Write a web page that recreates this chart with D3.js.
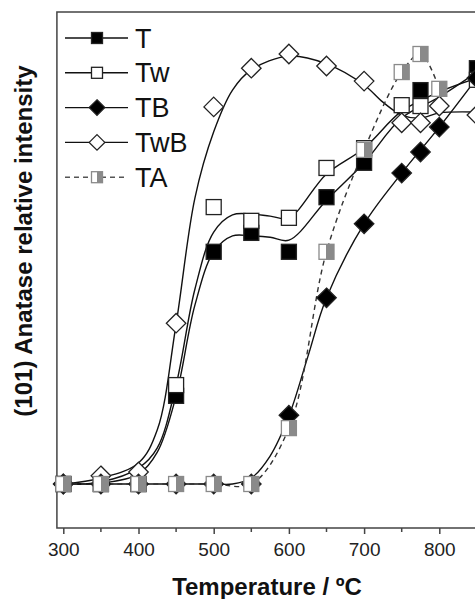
<!DOCTYPE html>
<html>
<head>
<meta charset="utf-8">
<script src="https://cdn.jsdelivr.net/npm/d3@7"></script>
<style>
  body { margin: 0; background: #fff; }
  svg { display: block; font-family: "Liberation Sans", Arial, sans-serif; }
</style>
</head>
<body>
<svg id="chart" width="475" height="599"></svg>
<script>
// measured points (relative intensity, baseline = 0)
const tempsT = [300, 350, 400, 450, 500, 550, 600, 650, 700, 775, 850];
const valuesT = [0, 0, 0, 20.5, 54.0, 58.4, 54.0, 66.7, 74.7, 91.6, 96.7];

const tempsTw = [300, 350, 400, 450, 500, 550, 600, 650, 700, 750, 775, 850];
const valuesTw = [0, 0, 0, 23.0, 64.4, 61.2, 61.9, 73.5, 78.1, 88.1, 87.9, 94.0];

const tempsTB = [300, 350, 400, 450, 500, 550, 600, 650, 700, 750, 775, 800, 850];
const valuesTB = [0, 0, 0, 0, 0, 0, 16.0, 43.3, 60.5, 72.3, 77.2, 83.0, 94.4];

const tempsTwB = [300, 350, 400, 450, 500, 550, 600, 650, 700, 750, 775, 800, 850];
const valuesTwB = [0, 1.9, 2.8, 37.4, 87.7, 96.7, 100, 97.2, 93.7, 84.0, 84.0, 87.9, 85.8];

const tempsTA = [300, 350, 400, 450, 500, 550, 600, 650, 700, 750, 775, 800];
const valuesTA = [0, 0, 0, 0, 0, 0, 13.0, 54.0, 77.7, 95.8, 100, 91.9];

// fitted curves as drawn in the figure
const fitTempsT = [300, 350, 400, 425, 450, 475, 500, 525, 550, 575, 600, 650, 700, 750, 800, 850];
const fitT = [0, 0.2, 2.3, 7.4, 20.5, 41.6, 54.0, 57.7, 57.7, 57.4, 56.7, 66.0, 74.7, 85.1, 90.0, 95.8];

const fitTempsTw = [300, 350, 400, 425, 450, 475, 500, 525, 550, 575, 600, 650, 700, 750, 800, 850];
const fitTw = [0, 0.5, 3.7, 8.4, 23.0, 45.3, 58.6, 62.6, 62.8, 62.3, 61.9, 72.1, 78.1, 86.7, 91.2, 94.4];

const fitTempsTB = [300, 350, 400, 450, 500, 525, 550, 575, 600, 625, 650, 700, 750, 800, 850];
const fitTB = [0, 0, 0, 0, 0, 0, 1.4, 6.5, 15.8, 29.5, 43.3, 60.5, 72.3, 83.0, 94.4];

const fitTempsTwB = [300, 350, 400, 425, 450, 475, 500, 525, 550, 600, 650, 700, 725, 750, 775, 800, 850];
const fitTwB = [0, 1.4, 4.9, 12.6, 37.2, 66.5, 81.9, 91.6, 96.3, 99.5, 97.7, 92.8, 88.8, 85.8, 85.1, 86.3, 86.5];

const majorTicks = [300, 400, 500, 600, 700, 800];
const minorTicks = [350, 450, 550, 650, 750, 850];
const legendLabels = ["T", "Tw", "TB", "TwB", "TA"];

const zip = (xs, ys) => xs.map((x, i) => ({ x: x, y: ys[i] }));

const svg = d3.select("#chart");

const x = d3.scaleLinear().domain([300, 800]).range([63.3, 439.3]);
const y = d3.scaleLinear().domain([0, 100]).range([484, 54]);

const frameLeft = x(291.5), frameTop = 12, frameBottom = 528, frameRight = x(900);

// fill for the half-shaded TA marker
const defs = svg.append("defs");
const grad = defs.append("linearGradient").attr("id", "half");
grad.append("stop").attr("offset", "50%").attr("stop-color", "#fff");
grad.append("stop").attr("offset", "50%").attr("stop-color", "#8a8a8a");

// frame
svg.append("path")
	.attr("d", `M${frameRight},${frameTop}H${frameLeft}V${frameBottom}H${frameRight}`)
	.attr("fill", "none")
	.attr("stroke", "#444")
	.attr("stroke-width", 1.5);

// x axis
const axis = svg.append("g").attr("transform", `translate(0,${frameBottom})`);
axis.call(d3.axisBottom(x).tickValues(majorTicks).tickSize(6).tickPadding(9).tickSizeOuter(0));
axis.select(".domain").remove();
axis.selectAll(".tick line").attr("stroke", "#444").attr("stroke-width", 1.5);
axis.selectAll(".tick text")
	.attr("font-size", 19)
	.attr("font-family", "Liberation Sans, Arial, sans-serif")
	.attr("fill", "#222");
axis.selectAll(".minor")
	.data(minorTicks)
	.enter()
	.append("line")
	.attr("x1", (d) => x(d))
	.attr("x2", (d) => x(d))
	.attr("y1", 0)
	.attr("y2", 4)
	.attr("stroke", "#444")
	.attr("stroke-width", 1.5);

// axis titles
svg.append("text")
	.attr("x", 267)
	.attr("y", 595)
	.attr("text-anchor", "middle")
	.attr("font-size", 24)
	.attr("font-weight", "bold")
	.attr("fill", "#111")
	.text("Temperature / ºC");

svg.append("text")
	.attr("transform", "translate(32,241) rotate(-90)")
	.attr("text-anchor", "middle")
	.attr("font-size", 24)
	.attr("font-weight", "bold")
	.attr("fill", "#111")
	.text("(101) Anatase relative intensity");

// curves
const plot = svg.append("g");
const line = d3.line()
	.x((d) => x(d.x))
	.y((d) => y(d.y))
	.curve(d3.curveCatmullRom.alpha(0.5));

const curves = [
	{ data: zip(fitTempsTB, fitTB), dash: null },
	{ data: zip(fitTempsTwB, fitTwB), dash: null },
	{ data: zip(fitTempsT, fitT), dash: null },
	{ data: zip(fitTempsTw, fitTw), dash: null },
	{ data: zip(tempsTA, valuesTA), dash: "5,4" }
];

plot.selectAll("path.curve")
	.data(curves)
	.enter()
	.append("path")
	.attr("class", "curve")
	.attr("d", (d) => line(d.data))
	.attr("fill", "none")
	.attr("stroke", (d) => (d.dash ? "#333" : "#111"))
	.attr("stroke-width", 1.4)
	.attr("stroke-dasharray", (d) => d.dash);

// marker shapes
function drawMarker(g, kind, s) {
	if (kind === "T" || kind === "Tw" || kind === "TA") {
		g.append("rect")
			.attr("x", -s / 2)
			.attr("y", -s / 2)
			.attr("width", s)
			.attr("height", s)
			.attr("fill", kind === "T" ? "#000" : kind === "Tw" ? "#fff" : "url(#half)")
			.attr("stroke", kind === "TA" ? "#8a8a8a" : "#222")
			.attr("stroke-width", 1.3);
	} else {
		const r = s * 0.65;
		g.append("path")
			.attr("d", `M0,${-r}L${r},0L0,${r}L${-r},0Z`)
			.attr("fill", kind === "TB" ? "#000" : "#fff")
			.attr("stroke", "#222")
			.attr("stroke-width", 1.3);
	}
}

const markerSets = [
	{ kind: "T", data: zip(tempsT, valuesT) },
	{ kind: "Tw", data: zip(tempsTw, valuesTw) },
	{ kind: "TwB", data: zip(tempsTwB, valuesTwB) },
	{ kind: "TB", data: zip(tempsTB, valuesTB) },
	{ kind: "TA", data: zip(tempsTA, valuesTA) }
];

markerSets.forEach((set) => {
	plot.append("g")
		.selectAll("g")
		.data(set.data)
		.enter()
		.append("g")
		.attr("transform", (d) => `translate(${x(d.x)},${y(d.y)})`)
		.each(function () {
			drawMarker(d3.select(this), set.kind, 15);
		});
});

// legend
const legend = svg.append("g")
	.selectAll("g")
	.data(legendLabels)
	.enter()
	.append("g")
	.attr("transform", (d, i) => `translate(0,${38 + i * 34.8})`);

legend.append("line")
	.attr("x1", 65)
	.attr("x2", 128)
	.attr("stroke", (d) => (d === "TA" ? "#555" : "#111"))
	.attr("stroke-width", 1.4)
	.attr("stroke-dasharray", (d) => (d === "TA" ? "5,4" : null));

legend.each(function (d) {
	const g = d3.select(this).append("g").attr("transform", "translate(97,0)");
	drawMarker(g, d, d === "TB" || d === "TwB" ? 12 : 11);
});

legend.append("text")
	.attr("x", 135)
	.attr("y", 9.5)
	.attr("font-size", 27)
	.attr("fill", "#111")
	.text((d) => d);
</script>
</body>
</html>
